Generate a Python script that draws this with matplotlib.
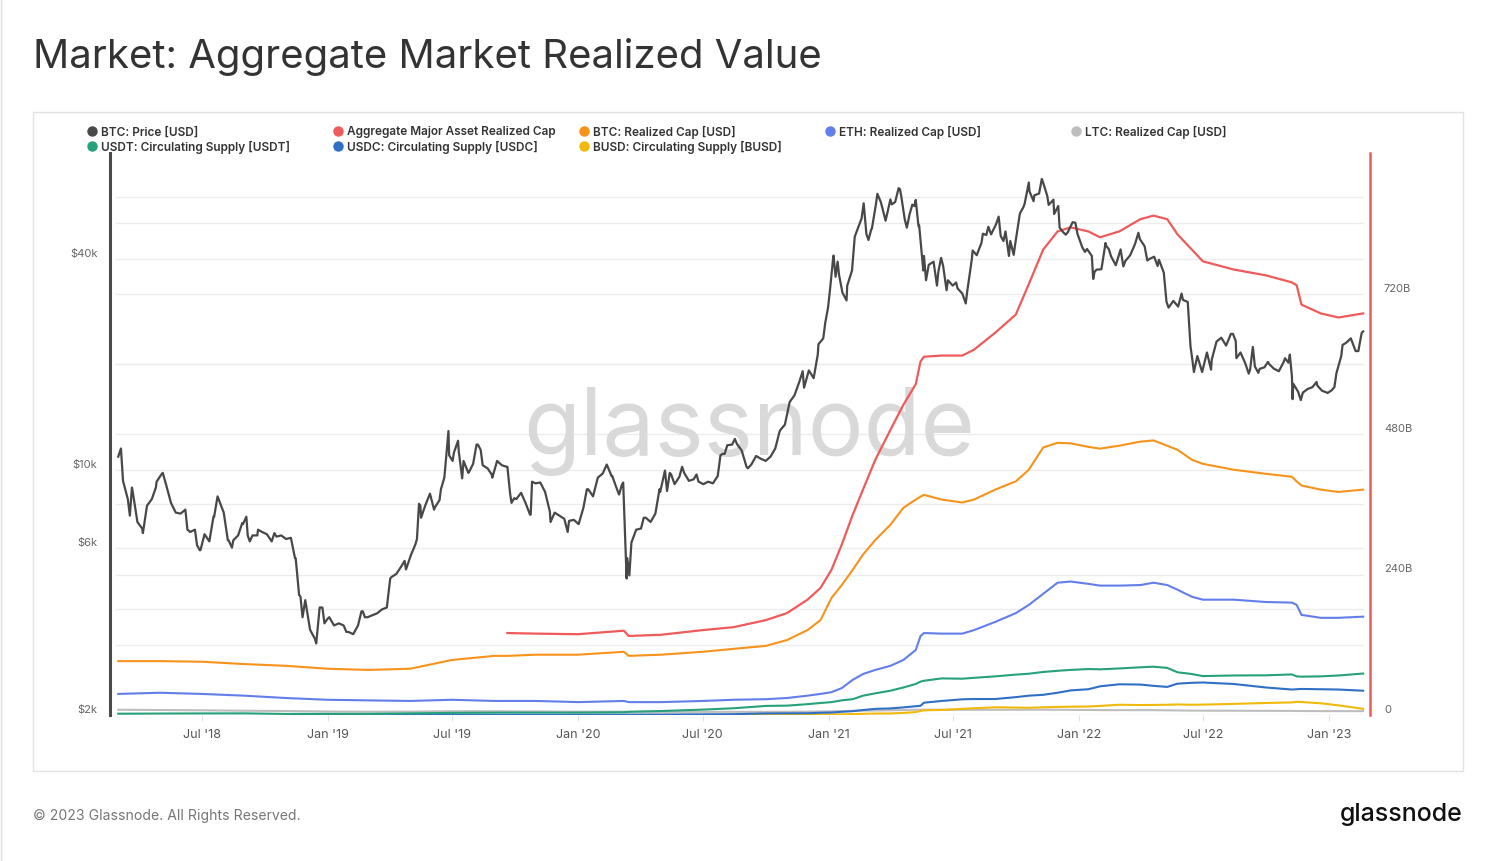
import numpy as np
import pandas as pd
import matplotlib
matplotlib.use("Agg")
import matplotlib.pyplot as plt
from matplotlib.lines import Line2D
from matplotlib.patches import Rectangle
from matplotlib.transforms import ScaledTranslation

plt.rcParams['font.family'] = ['Inter', 'DejaVu Sans']

# ---------------- DATA ----------------
# BTC price [USD], weekly closes per year (start dates below) + daily extremes
btc_2018_start = '2018-03-01'
btc_2018 = [10900, 9300, 8250, 8700, 7100,
            6800, 7900, 8250, 9250,
            9700, 9050, 8050, 7550, 7500,
            7700, 6650, 6750, 5900,
            6550, 6250, 7350, 8200,
            7550, 6300, 6300, 6500, 7000,
            6500, 6500, 6500, 6650,
            6550, 6250, 6450, 6500,
            6350, 6400, 5600, 4350, 4250,
            3500, 3300, 4050, 3650]
btc_2019_start = '2019-01-03'
btc_2019 = [3800, 3600, 3650, 3600, 3450,
            3400, 3600, 3950, 3800,
            3850, 3900, 4000, 4050,
            4950, 5050, 5300, 5200,
            5700, 6150, 7900, 7900, 8550,
            7800, 8200, 9500, 11000,
            11200, 11300, 10600, 9800,
            10400, 11800, 10300, 10100, 9500,
            10600, 10300, 10200, 8050,
            8250, 8600, 8000, 7450, 9150,
            9200, 8650, 7600, 7550,
            7550, 7250, 7150, 7200]
btc_2020_start = '2020-01-02'
btc_2020 = [7000, 7800, 8800, 8400, 9500,
            9750, 10250, 9600, 8800,
            9050, 4900, 6200, 6750,
            6800, 7300, 7100, 7500, 8650,
            9950, 9800, 9100, 9550,
            9800, 9300, 9400, 9250,
            9100, 9250, 9150, 9600, 11100,
            11750, 11800, 11850, 11350,
            10200, 10350, 10950, 10750,
            10600, 10900, 11500, 12950, 13450,
            15600, 16300, 17800, 17150,
            19200, 18250, 22800, 23700, 29000]
btc_2021_start = '2021-01-07'
btc_2021 = [39400, 39200, 32000, 33500,
            37000, 47900, 52100, 47000,
            48400, 57300, 58000, 51300,
            59000, 58000, 63100, 51700, 53500,
            56500, 49700, 40700, 38400,
            39200, 36700, 38100, 34700,
            33500, 32900, 31800, 32100, 40000,
            40900, 44400, 46700, 46900,
            50000, 46400, 47800, 44900, 43800,
            53800, 57400, 62200, 60600,
            61300, 64900, 56900, 58900,
            56500, 47600, 47600, 50800, 47100]
btc_2022_start = '2022-01-06'
btc_2022 = [43100, 42600, 40700, 37200,
            37300, 43500, 40600, 38300,
            42500, 39400, 40900, 44000, 45500,
            43400, 39900, 40500, 39700,
            36500, 29000, 30300, 29200,
            30500, 30100, 20400, 21100, 19000,
            21600, 20600, 23200, 23800,
            22600, 24400, 23300, 21600,
            20100, 19300, 19700, 19400, 19600,
            20000, 19400, 19100, 20300,
            20200, 17600, 16700, 16600,
            17000, 17200, 17400, 16800, 16600]
btc_2023_start = '2023-01-05'
btc_2023 = [16850, 18850, 21100, 23000, 23700, 21800, 23500]

# daily highs / lows read between the weekly points
btc_daily_points = [
    ('2018-03-05', 11500), ('2018-03-18', 7400), ('2018-03-21', 8900), ('2018-04-06', 6600),
    ('2018-04-25', 8900), ('2018-05-05', 9800), ('2018-06-10', 6750), ('2018-06-24', 6100),
    ('2018-06-29', 5900), ('2018-07-18', 7350), ('2018-07-24', 8400), ('2018-08-08', 6300),
    ('2018-08-14', 6000), ('2018-08-29', 7050), ('2018-09-04', 7350), ('2018-09-09', 6250),
    ('2018-09-21', 6750), ('2018-10-11', 6250), ('2018-10-15', 6600), ('2018-11-14', 5600),
    ('2018-11-20', 4400), ('2018-11-25', 3800), ('2018-12-15', 3200), ('2018-12-24', 4050),
    ('2018-12-31', 3750),
    ('2019-01-28', 3450), ('2019-02-19', 3950), ('2019-02-24', 3800), ('2019-04-02', 4900),
    ('2019-04-23', 5500), ('2019-05-11', 6350), ('2019-05-14', 8000), ('2019-05-17', 7300),
    ('2019-06-05', 7700), ('2019-06-15', 8800), ('2019-06-26', 12900), ('2019-07-02', 10600),
    ('2019-07-10', 12100), ('2019-07-16', 9450), ('2019-07-26', 9850), ('2019-08-06', 11800),
    ('2019-08-12', 11400), ('2019-08-28', 9700), ('2019-09-20', 10200), ('2019-09-24', 8550),
    ('2019-09-30', 8300), ('2019-10-23', 7450), ('2019-10-26', 9250), ('2019-11-22', 7100),
    ('2019-12-05', 7400), ('2019-12-17', 6650),
    ('2020-01-14', 8800), ('2020-02-12', 10350), ('2020-02-19', 9600), ('2020-03-01', 8500),
    ('2020-03-07', 9200), ('2020-03-13', 5600), ('2020-03-16', 5000), ('2020-04-06', 7300),
    ('2020-04-29', 8800), ('2020-05-10', 8700), ('2020-05-16', 9700), ('2020-06-01', 10200),
    ('2020-06-22', 9700), ('2020-07-27', 11000), ('2020-08-02', 11100), ('2020-08-17', 12250),
    ('2020-09-05', 10100), ('2020-10-21', 12800), ('2020-11-24', 19100), ('2020-12-16', 21300),
    ('2020-12-27', 26300),
    ('2021-01-03', 32800), ('2021-01-08', 40800), ('2021-01-11', 35500), ('2021-01-16', 36000),
    ('2021-01-27', 30400), ('2021-02-08', 46200), ('2021-02-21', 57500), ('2021-02-28', 45200),
    ('2021-03-05', 48700), ('2021-03-13', 61200), ('2021-03-24', 52300), ('2021-04-03', 57100),
    ('2021-04-13', 63500), ('2021-04-17', 60000), ('2021-04-25', 49000), ('2021-05-03', 57000),
    ('2021-05-08', 58800), ('2021-05-12', 49500), ('2021-05-19', 37000), ('2021-05-23', 34700),
    ('2021-06-08', 33500), ('2021-06-14', 40200), ('2021-06-22', 32500), ('2021-07-06', 34200),
    ('2021-07-20', 29800), ('2021-07-30', 42200), ('2021-08-14', 47100), ('2021-08-22', 49300),
    ('2021-09-06', 52700), ('2021-09-13', 44900), ('2021-09-21', 40700), ('2021-09-28', 41000),
    ('2021-10-12', 56000), ('2021-10-20', 65900), ('2021-10-27', 58300), ('2021-11-08', 67500),
    ('2021-11-16', 60300), ('2021-11-26', 53600), ('2021-12-04', 49000), ('2021-12-13', 46800),
    ('2021-12-27', 50600),
    ('2022-01-10', 41800), ('2022-01-22', 35000), ('2022-01-24', 36700), ('2022-02-09', 44300),
    ('2022-02-14', 42500), ('2022-03-07', 38000), ('2022-03-29', 47400), ('2022-04-11', 39500),
    ('2022-04-26', 38100), ('2022-05-09', 30100), ('2022-05-31', 31800), ('2022-06-13', 22500),
    ('2022-06-18', 19000), ('2022-07-13', 19300), ('2022-08-14', 24400), ('2022-08-19', 20800),
    ('2022-09-06', 18800), ('2022-09-12', 22400), ('2022-09-20', 18900), ('2022-10-04', 20300),
    ('2022-10-29', 20800), ('2022-11-05', 21300), ('2022-11-08', 18500), ('2022-11-09', 15900),
    ('2022-11-21', 15800), ('2022-12-14', 17800), ('2022-12-30', 16550),
    ('2023-01-09', 17200), ('2023-01-21', 22700), ('2023-02-13', 21800), ('2023-02-18', 24600),
    ('2023-02-20', 24800),
]

# Realized caps / supplies [billion USD] at these dates
cap_dates = ['2018-03-01', '2018-05-01', '2018-07-01', '2018-09-01', '2018-11-01',
             '2019-01-01', '2019-03-01', '2019-05-01', '2019-07-01', '2019-09-01',
             '2019-09-20', '2019-11-01', '2020-01-01', '2020-03-08', '2020-03-15',
             '2020-05-01', '2020-07-01', '2020-08-15', '2020-10-01', '2020-11-01',
             '2020-12-01', '2020-12-20', '2021-01-05', '2021-01-20', '2021-02-05',
             '2021-02-20', '2021-03-10', '2021-04-01', '2021-04-20', '2021-05-08',
             '2021-05-15', '2021-05-20', '2021-06-15', '2021-07-15', '2021-08-01',
             '2021-09-01', '2021-10-01', '2021-10-20', '2021-11-10', '2021-12-01',
             '2021-12-20', '2022-01-15', '2022-02-01', '2022-03-01', '2022-04-01',
             '2022-04-20', '2022-05-10', '2022-05-25', '2022-06-15', '2022-07-01',
             '2022-08-15', '2022-10-01', '2022-11-08', '2022-11-15', '2022-11-22',
             '2022-12-20', '2023-01-15', '2023-02-20']
nan = np.nan
aggregate_cap = [nan, nan, nan, nan, nan, nan, nan, nan, nan, nan,
                 140, 139, 138, 144, 135, 137, 145, 150, 162, 174,
                 197, 217, 248, 291, 342, 385, 436, 487, 530, 565,
                 604, 612, 614, 614, 624, 653, 684, 736, 795, 826,
                 833, 826, 816, 826, 847, 853, 847, 821, 795, 775,
                 761, 751, 739, 734, 701, 686, 679, 686]
btc_cap = [92, 92, 91, 87, 84, 79, 77, 79, 94, 101,
           101, 103, 103, 108, 101, 103, 108, 113, 118, 128,
           145, 162, 200, 222, 248, 274, 299, 325, 354, 368,
           373, 376, 368, 363, 368, 385, 399, 419, 457, 465,
           464, 458, 455, 460, 467, 469, 460, 453, 436, 429,
           419, 412, 407, 399, 392, 385, 381, 385]
eth_cap = [36, 38, 36, 33, 29, 26, 25, 24, 26, 24,
           24, 24, 22, 24, 22, 22, 24, 26, 27, 29,
           33, 36, 39, 46, 60, 70, 77, 84, 94, 111,
           135, 140, 139, 139, 145, 159, 174, 188, 207, 226,
           228, 224, 221, 221, 222, 226, 222, 214, 202, 197,
           197, 193, 192, 188, 171, 166, 166, 168]
ltc_cap = [9.0, 8.5, 8.0, 7.3, 6.8, 6.0, 5.6, 5.8, 6.5, 6.4,
           6.3, 6.0, 5.7, 5.7, 5.4, 5.3, 5.3, 5.4, 5.4, 5.5,
           5.7, 6.0, 6.3, 6.6, 7.0, 7.4, 7.6, 8.0, 8.5, 9.0,
           9.0, 9.1, 9.0, 8.9, 8.9, 8.9, 8.9, 9.0, 9.1, 9.0,
           8.8, 8.6, 8.4, 8.3, 8.3, 8.3, 8.0, 7.8, 7.5, 7.4,
           7.3, 7.1, 7.0, 6.8, 6.8, 6.6, 6.6, 6.6]
usdt_supply = [2.2, 2.5, 2.7, 2.8, 1.8, 2.0, 2.0, 2.8, 3.6, 4.0,
               4.1, 4.1, 4.1, 4.7, 5.5, 6.8, 9.2, 11.5, 15.5, 16.0,
               18.5, 20.5, 22.0, 25.0, 27.0, 33.0, 37.0, 41.5, 47.0, 53.0,
               57.0, 58.5, 62.5, 62.0, 63.5, 66.0, 69.0, 70.5, 73.5, 75.5,
               77.0, 78.5, 78.0, 79.5, 81.5, 82.5, 80.5, 73.0, 70.0, 66.5,
               67.5, 67.8, 69.3, 66.0, 65.5, 66.0, 67.5, 70.8]
usdc_supply = [nan, nan, nan, nan, 0.25, 0.25, 0.25, 0.35, 0.45, 0.45,
               0.45, 0.47, 0.5, 0.6, 0.7, 0.8, 1.1, 1.4, 2.7, 2.9,
               3.0, 3.8, 4.2, 5.5, 6.5, 8.5, 10.5, 11.2, 13.0, 15.0,
               15.8, 21.0, 24.0, 26.8, 27.3, 27.3, 30.5, 33.0, 34.5, 38.0,
               42.0, 44.0, 49.0, 52.5, 52.0, 49.8, 48.0, 53.5, 55.0, 55.5,
               53.0, 47.0, 43.5, 44.0, 44.5, 44.0, 43.5, 41.5]
busd_supply = [nan, nan, nan, nan, nan, nan, nan, nan, nan, nan,
               0.02, 0.05, 0.18, 0.15, 0.15, 0.17, 0.17, 0.2, 0.25, 0.55,
               0.8, 0.95, 1.0, 1.1, 1.6, 2.1, 2.5, 2.7, 3.6, 5.0,
               6.8, 8.0, 8.6, 10.5, 11.5, 13.2, 12.7, 12.3, 13.2, 13.8,
               14.2, 14.5, 15.5, 17.5, 17.0, 17.2, 17.5, 18.0, 17.5, 17.7,
               19.0, 20.5, 21.5, 22.5, 22.2, 20.0, 16.5, 10.5]

x_tick_dates = ['2018-07-01', '2019-01-01', '2019-07-01', '2020-01-01', '2020-07-01',
                '2021-01-01', '2021-07-01', '2022-01-01', '2022-07-01', '2023-01-01']
price_ticks = [2000, 6000, 10000, 40000]
price_tick_labels = ['$2k', '$6k', '$10k', '$40k']
price_grid = [2000, 4000, 6000, 10000, 20000, 40000, 60000]
cap_ticks = [0, 240, 480, 720]
cap_tick_labels = ['0', '240B', '480B', '720B']
cap_grid = [0, 120, 240, 360, 480, 600, 720, 840]

legend_labels = ['BTC: Price [USD]', 'Aggregate Major Asset Realized Cap', 'BTC: Realized Cap [USD]',
                 'ETH: Realized Cap [USD]', 'LTC: Realized Cap [USD]',
                 'USDT: Circulating Supply [USDT]', 'USDC: Circulating Supply [USDC]',
                 'BUSD: Circulating Supply [BUSD]']

# ---------------- STYLE ----------------
C_PRICE = '#484848'
C_AGG = '#ef5a5a'
C_BTC = '#f7931a'
C_ETH = '#627eea'
C_LTC = '#bdbdbd'
C_USDT = '#26a17b'
C_USDC = '#2f6fc4'
C_BUSD = '#f0b90b'
legend_colors = [C_PRICE, C_AGG, C_BTC, C_ETH, C_LTC, C_USDT, C_USDC, C_BUSD]

W, H = 1495, 861
fig = plt.figure(figsize=(W / 100, H / 100), dpi=100)
fx = lambda px: px / W
fy = lambda py: 1 - py / H

# build price series
parts_d, parts_v = [], []
for start, vals in [(btc_2018_start, btc_2018), (btc_2019_start, btc_2019),
                    (btc_2020_start, btc_2020), (btc_2021_start, btc_2021),
                    (btc_2022_start, btc_2022), (btc_2023_start, btc_2023)]:
    parts_d.append(pd.date_range(start, periods=len(vals), freq='7D'))
    parts_v.append(vals)
price = pd.Series(np.concatenate(parts_v).astype(float),
                  index=pd.DatetimeIndex(np.concatenate([p.values for p in parts_d])))
daily = pd.Series([v for _, v in btc_daily_points],
                  index=pd.to_datetime([d for d, _ in btc_daily_points]), dtype=float)
daily = daily[~daily.index.duplicated(keep='last')]
price = pd.concat([price[~price.index.isin(daily.index)], daily]).sort_index()

cd = pd.to_datetime(cap_dates)

ax = fig.add_axes([fx(110), fy(715), fx(1370) - fx(110), fy(153) - fy(715)])
axp = ax.twinx()

x0, x1 = pd.Timestamp('2018-02-17'), pd.Timestamp('2023-03-02')
ax.set_xlim(x0, x1)
ax.set_ylim(0, 960)
axp.set_yscale('log')
axp.set_ylim(2000, 80000)

# grid lines (drawn on cap axis)
gx0, gx1 = pd.Timestamp('2018-02-24'), pd.Timestamp('2023-02-21')
for v in cap_grid:
    ax.hlines(v, gx0, gx1, color='#ececec', lw=1, zorder=0)
for p in price_grid:
    v = np.log10(p / 2000) / np.log10(40) * 960
    ax.hlines(v, gx0, gx1, color='#ececec', lw=1, zorder=0)

# watermark
ax.text(fx(749), fy(455), 'glassnode', transform=fig.transFigure, ha='center', va='baseline',
        fontsize=67, color='#d9d9d9', zorder=1)

# cap lines
ax.plot(cd, ltc_cap, color=C_LTC, lw=1.5, zorder=2)
ax.plot(cd, busd_supply, color=C_BUSD, lw=1.5, zorder=2)
ax.plot(cd, usdc_supply, color=C_USDC, lw=1.5, zorder=2)
ax.plot(cd, usdt_supply, color=C_USDT, lw=1.5, zorder=2)
ax.plot(cd, eth_cap, color=C_ETH, lw=1.5, zorder=2)
ax.plot(cd, btc_cap, color=C_BTC, lw=1.5, zorder=2)
ax.plot(cd, aggregate_cap, color=C_AGG, lw=1.6, zorder=2)

# price line
axp.plot(price.index, price.values, color=C_PRICE, lw=1.6, zorder=3)

# spines
for a in (ax, axp):
    for s in a.spines.values():
        s.set_visible(False)
axp.spines['left'].set_visible(True)
axp.spines['left'].set_color('#4a4a4a')
axp.spines['left'].set_linewidth(2.2)
axp.spines['right'].set_visible(True)
axp.spines['right'].set_color(C_AGG)
axp.spines['right'].set_linewidth(1.8)

# ticks
xt = pd.to_datetime(x_tick_dates)
ax.set_xticks(xt)
ax.set_xticklabels([d.strftime("%b '%y") for d in xt])
ax.tick_params(axis='x', length=4, color='#e2e2e2', labelsize=9, labelcolor='#555', pad=6)

ax.yaxis.tick_right()
ax.set_yticks(cap_ticks)
ax.set_yticklabels(cap_tick_labels)
ax.tick_params(axis='y', length=0, labelsize=8, labelcolor='#666', pad=10)

axp.yaxis.tick_left()
axp.set_yticks(price_ticks)
axp.set_yticklabels(price_tick_labels)
axp.yaxis.set_minor_locator(matplotlib.ticker.NullLocator())
axp.tick_params(axis='y', which='both', length=0, labelsize=8, labelcolor='#666', pad=9)

off = ScaledTranslation(0, 6 / 100, fig.dpi_scale_trans)
for lab in ax.get_yticklabels() + axp.get_yticklabels():
    lab.set_transform(lab.get_transform() + off)

# title / frame / footer
fig.text(fx(33), fy(57), 'Market: Aggregate Market Realized Value', fontsize=28.9,
         color='#333333', va='center', ha='left')
fig.patches.append(Rectangle((fx(33), fy(771)), fx(1463) - fx(33), fy(112) - fy(771),
                             transform=fig.transFigure, fill=False, ec='#e2e2e2', lw=1))
fig.add_artist(Line2D([0.0005, 0.0005], [0, 1], transform=fig.transFigure, color='#e0e0e0', lw=1))
fig.text(fx(33), fy(816), '\u00a9 2023 Glassnode. All Rights Reserved.', fontsize=10.1,
         color='#777777', va='center', ha='left')
fig.text(fx(1463), fy(815), 'glassnode', fontsize=18, color='#111111', va='center', ha='right',
         fontweight='medium')

# legend (manual)
col_x = [92, 338, 584, 830, 1076]
row_y = [131, 146]
pos = [(0, 0), (1, 0), (2, 0), (3, 0), (4, 0), (0, 1), (1, 1), (2, 1)]
for lab, col, (ci, ri) in zip(legend_labels, legend_colors, pos):
    xm, ym = col_x[ci], row_y[ri]
    fig.add_artist(Line2D([fx(xm)], [fy(ym)], marker='o', markersize=6.5, color=col,
                          transform=fig.transFigure, lw=0))
    fig.text(fx(xm + 9), fy(ym), lab, fontsize=8.5, color='#333333', va='center_baseline',
             ha='left', fontweight='semibold')

fig.savefig('out.png', dpi=100)
